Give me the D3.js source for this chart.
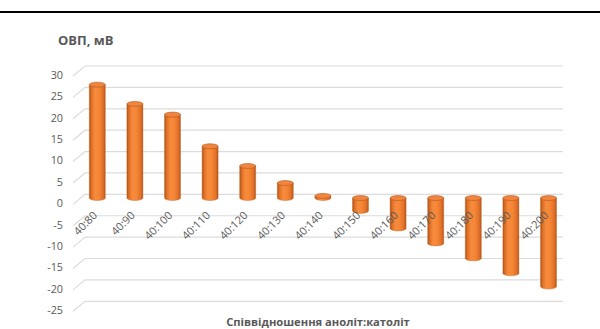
<!DOCTYPE html>
<html>
<head>
<meta charset="utf-8">
<script src="https://cdn.jsdelivr.net/npm/d3@7/dist/d3.min.js"></script>
<style>
  html, body { margin: 0; padding: 0; background: #fff; }
  svg { display: block; }
  text { font-family: "Open Sans", "Noto Sans", sans-serif; }
</style>
</head>
<body>
<svg id="chart" width="600" height="329"></svg>
<script>
// Redox potential vs. anolyte:catholyte ratio
const categories = ["40:80", "40:90", "40:100", "40:110", "40:120", "40:130", "40:140",
                    "40:150", "40:160", "40:170", "40:180", "40:190", "40:200"];
const orpValues = [26.5, 22.0, 19.5, 12.1, 7.5, 3.5, 0.5, -3.0, -7.1, -10.6, -14.1, -17.6, -20.7];
const yTicks = [30, 25, 20, 15, 10, 5, 0, -5, -10, -15, -20, -25];
const yTitle = "ОВП, мВ";
const xTitle = "Співвідношення аноліт:католіт";

const svg = d3.select("#chart");
const W = 600, H = 329;

// frame line along the top
svg.append("rect").attr("x", 0).attr("y", 11).attr("width", W).attr("height", 2).attr("fill", "#000");

// 3D wall geometry: back wall plane, floor depth offset
const depthDx = 12, depthDy = 10;
const wallLeft = 85, wallRight = 563;
const yBack = d3.scaleLinear().domain([-25, 30]).range([301.3, 66]);
const barDy = 3.7; // bars sit partway into the depth
const yBar = v => yBack(v) + barDy;

const x = d3.scaleBand().domain(categories).range([78.5, 567.3]).paddingInner(0).paddingOuter(0);
const cx = c => x(c) + x.bandwidth() / 2;

// gridlines: short diagonal from the front edge, then along the back wall
const grid = svg.append("g").attr("stroke", "#dcdcdc").attr("stroke-width", 1.2).attr("fill", "none");
yTicks.forEach(v => {
  const yb = yBack(v);
  grid.append("path")
    .attr("d", `M${wallLeft - depthDx},${yb + depthDy} L${wallLeft},${yb} L${wallRight},${yb}`);
});

// y axis labels on the front edge
svg.append("g").selectAll("text").data(yTicks).join("text")
  .attr("x", 63)
  .attr("y", v => yBack(v) + depthDy - 1)
  .attr("dy", "0.35em")
  .attr("text-anchor", "end")
  .attr("font-size", 10.8)
  .attr("fill", "#595959")
  .text(v => v);

// cylinder shading
const defs = svg.append("defs");
const grad = defs.append("linearGradient").attr("id", "cyl").attr("x1", "0").attr("x2", "1").attr("y1", "0").attr("y2", "0");
[[0, "#b3520f"], [0.15, "#e0722a"], [0.35, "#f68b3d"], [0.6, "#f58636"], [0.85, "#e2712a"], [1, "#b4551a"]]
  .forEach(([o, c]) => grad.append("stop").attr("offset", o).attr("stop-color", c));

const rx = 8, ry = 2.5;
const bars = svg.append("g");
categories.forEach((c, i) => {
  const v = orpValues[i];
  const xc = cx(c);
  const yTop = yBar(Math.max(v, 0));
  const yBot = yBar(Math.min(v, 0));
  bars.append("path")
    .attr("d", `M${xc - rx},${yTop} L${xc - rx},${yBot} A${rx},${ry} 0 0 0 ${xc + rx},${yBot} L${xc + rx},${yTop} Z`)
    .attr("fill", "url(#cyl)")
    .attr("stroke", "#c0601e").attr("stroke-width", 0.4);
  bars.append("ellipse")
    .attr("cx", xc).attr("cy", yTop).attr("rx", rx).attr("ry", ry)
    .attr("fill", "#ef8540")
    .attr("stroke", "#b8581a").attr("stroke-width", 0.6);
});

// category labels, rotated
const yZeroFront = yBack(0) + depthDy;
svg.append("g").selectAll("text").data(categories).join("text")
  .attr("transform", c => `translate(${cx(c) - 2},${yZeroFront + 9}) rotate(-45)`)
  .attr("text-anchor", "end")
  .attr("dy", "0.35em")
  .attr("font-size", 11)
  .attr("fill", "#595959")
  .text(c => c);

// titles
svg.append("text").attr("x", 58).attr("y", 44.5)
  .attr("font-size", 13).attr("font-weight", "bold").attr("fill", "#595959")
  .text(yTitle);
svg.append("text").attr("x", 318).attr("y", 326)
  .attr("text-anchor", "middle")
  .attr("font-size", 11.2).attr("font-weight", "bold").attr("fill", "#595959")
  .text(xTitle);
</script>
</body>
</html>
